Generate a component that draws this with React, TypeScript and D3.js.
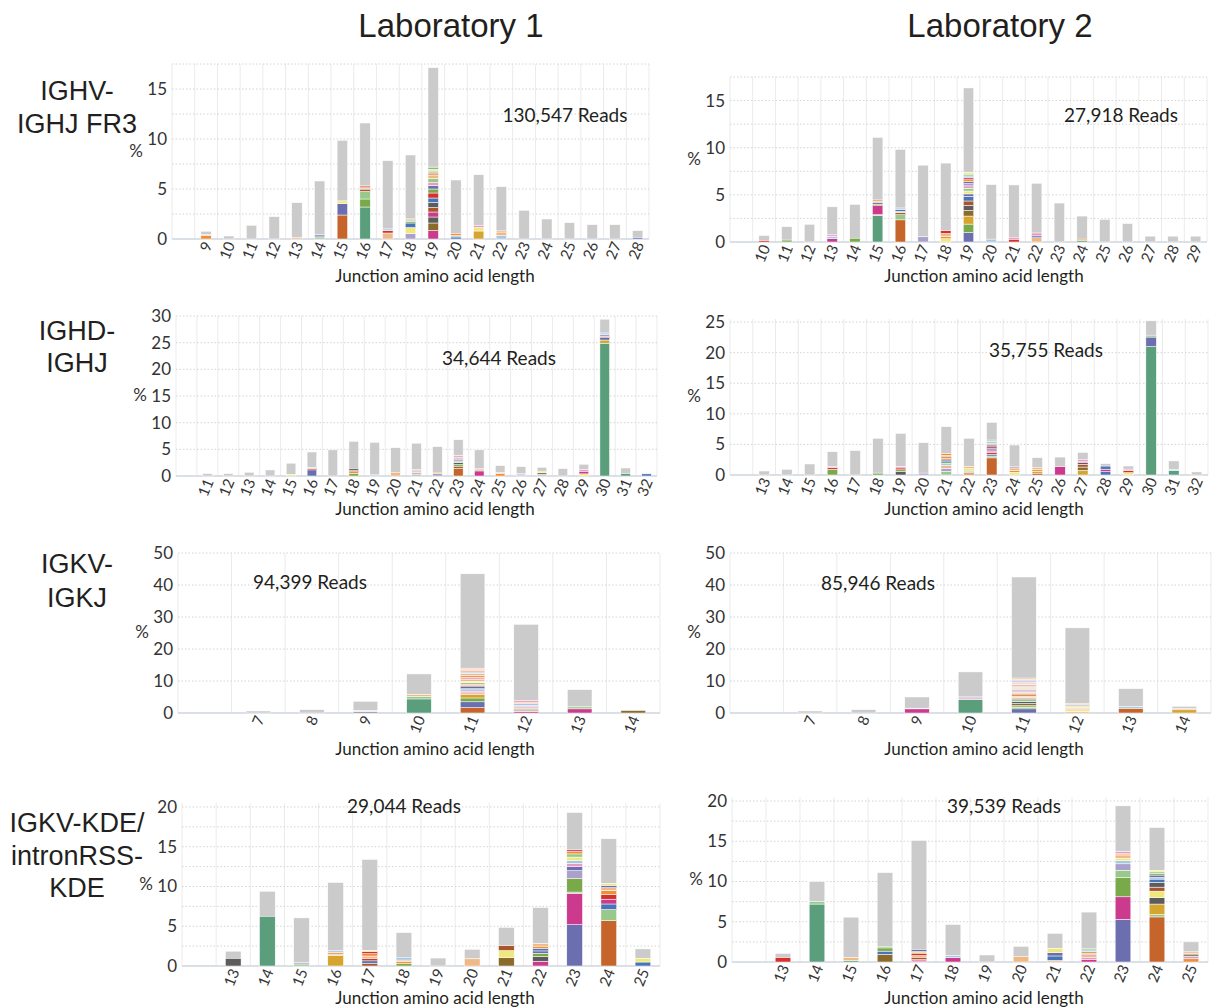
import React from "react";
import * as d3 from "d3";

// each clone segment: [clone colour key, % of reads]
type Seg = [string, number];

// ---------------- IGHV-IGHJ FR3 ----------------
const fr3Lab1Lengths = [9, 10, 11, 12, 13, 14, 15, 16, 17, 18, 19, 20, 21, 22, 23, 24, 25, 26, 27, 28];
const fr3Lab1Totals = [0.77, 0.3, 1.37, 2.23, 3.63, 5.8, 9.87, 11.6, 7.83, 8.4, 17.13, 5.9, 6.43, 5.23, 2.87, 2.0, 1.63, 1.43, 1.43, 0.83];
const fr3Lab1Clones: Seg[][] = [
  [["N", 0.35], ["E", 0.1]],
  [],
  [],
  [],
  [["E", 0.15]],
  [["L", 0.2], ["V", 0.25]],
  [["O", 2.4], ["P", 1.15], ["W", 0.25]],
  [["T", 3.2], ["G", 0.8], ["L", 0.75], ["S", 0.2], ["D", 0.1], ["N", 0.15], ["R", 0.1]],
  [["E", 0.6], ["R", 0.25], ["C", 0.15]],
  [["V", 0.55], ["W", 0.6], ["U", 0.45], ["G", 0.15], ["L", 0.15], ["E", 0.1]],
  [["M", 0.85], ["B", 0.75], ["D", 0.6], ["M", 0.5], ["S", 0.45], ["D", 0.5], ["U", 0.45], ["R", 0.5], ["G", 0.4],
   ["P", 0.35], ["K", 0.3], ["L", 0.4], ["E", 0.35], ["N", 0.2], ["C", 0.2], ["W", 0.2], ["T", 0.15], ["G", 0.12]],
  [["U", 0.2], ["C", 0.15], ["N", 0.2]],
  [["Y", 0.8], ["W", 0.35], ["K", 0.2]],
  [["C", 0.35], ["E", 0.35], ["N", 0.1]],
  [], [], [], [], [],
  [["P", 0.15]],
];

const fr3Lab2Lengths = [10, 11, 12, 13, 14, 15, 16, 17, 18, 19, 20, 21, 22, 23, 24, 25, 26, 27, 28, 29];
const fr3Lab2Totals = [0.69, 1.63, 1.88, 3.73, 3.99, 11.09, 9.82, 8.15, 8.37, 16.34, 6.09, 6.05, 6.23, 4.13, 2.75, 2.39, 1.96, 0.62, 0.62, 0.62];
const fr3Lab2Clones: Seg[][] = [
  [["R", 0.15]],
  [["G", 0.2]],
  [],
  [["M", 0.35], ["C", 0.25], ["K", 0.15]],
  [["G", 0.4]],
  [["T", 2.8], ["K", 0.1], ["M", 0.95], ["B", 0.15], ["D", 0.15], ["C", 0.15], ["N", 0.15]],
  [["O", 2.35], ["L", 0.55], ["S", 0.2], ["E", 0.15], ["U", 0.2], ["C", 0.15]],
  [["V", 0.55]],
  [["W", 0.35], ["N", 0.25], ["E", 0.3], ["R", 0.3]],
  [["P", 1.0], ["G", 0.9], ["Y", 0.85], ["B", 0.6], ["D", 0.55], ["S", 0.45], ["U", 0.5], ["P", 0.25], ["W", 0.3],
   ["L", 0.3], ["K", 0.25], ["V", 0.25], ["P", 0.2], ["N", 0.2], ["R", 0.2], ["C", 0.2], ["L", 0.2], ["W", 0.15]],
  [["C", 0.3]],
  [["R", 0.3], ["K", 0.2]],
  [["E", 0.45], ["P", 0.2], ["K", 0.3]],
  [],
  [["T", 0.15], ["N", 0.15]],
  [], [], [], [], [],
];

// ---------------- IGHD-IGHJ ----------------
const ighdLab1Lengths = [11, 12, 13, 14, 15, 16, 17, 18, 19, 20, 21, 22, 23, 24, 25, 26, 27, 28, 29, 30, 31, 32];
const ighdLab1Totals = [0.44, 0.44, 0.7, 1.13, 2.4, 4.5, 4.9, 6.5, 6.3, 5.3, 6.15, 5.5, 6.8, 4.9, 1.95, 1.75, 1.63, 1.38, 2.2, 29.4, 1.5, 0.5];
const ighdLab1Clones: Seg[][] = [
  [], [], [], [],
  [["W", 0.25]],
  [["P", 1.15], ["R", 0.3], ["C", 0.1]],
  [],
  [["G", 0.5], ["N", 0.3], ["S", 0.3], ["D", 0.3]],
  [["C", 0.2]],
  [["E", 0.7]],
  [["L", 0.35], ["K", 0.3], ["C", 0.3], ["E", 0.2]],
  [["V", 0.5], ["Y", 0.2]],
  [["O", 1.4], ["B", 0.45], ["G", 0.3], ["D", 0.35], ["L", 0.3], ["V", 0.3], ["P", 0.25], ["E", 0.2], ["K", 0.25]],
  [["M", 0.95], ["V", 0.2], ["E", 0.3]],
  [["N", 0.5], ["E", 0.15]],
  [["K", 0.2], ["C", 0.3]],
  [["C", 0.3], ["B", 0.3], ["W", 0.2], ["L", 0.1]],
  [],
  [["W", 0.4], ["M", 0.5], ["K", 0.3]],
  [["T", 24.9], ["Y", 0.6], ["U", 0.45], ["R", 0.25], ["V", 0.3], ["C", 0.3]],
  [["T", 0.45]],
  [["U", 0.4]],
];

const ighdLab2Lengths = [13, 14, 15, 16, 17, 18, 19, 20, 21, 22, 23, 24, 25, 26, 27, 28, 29, 30, 31, 32];
const ighdLab2Totals = [0.65, 0.92, 1.8, 3.8, 4.0, 6.0, 6.8, 5.27, 7.9, 6.0, 8.6, 4.9, 2.83, 2.93, 3.7, 1.85, 1.47, 25.2, 2.3, 0.5];
const ighdLab2Clones: Seg[][] = [
  [], [], [],
  [["G", 0.95], ["R", 0.25], ["K", 0.2]],
  [],
  [["G", 0.3]],
  [["D", 0.55], ["G", 0.3], ["R", 0.3], ["K", 0.2]],
  [["V", 0.3]],
  [["L", 0.6], ["V", 0.5], ["E", 0.5], ["C", 0.3], ["T", 0.25], ["U", 0.3], ["N", 0.3], ["S", 0.2], ["E", 0.25], ["N", 0.3]],
  [["N", 0.35], ["C", 0.3], ["W", 0.4], ["E", 0.3]],
  [["O", 2.8], ["L", 0.3], ["P", 0.3], ["R", 0.3], ["M", 0.2], ["V", 0.4], ["R", 0.3], ["U", 0.3], ["E", 0.3], ["C", 0.3], ["L", 0.2]],
  [["W", 0.45], ["N", 0.3], ["E", 0.4], ["V", 0.25]],
  [["S", 0.3], ["N", 0.3], ["Y", 0.3], ["E", 0.35]],
  [["M", 1.35]],
  [["Y", 0.75], ["B", 0.55], ["S", 0.45], ["D", 0.3], ["M", 0.2], ["K", 0.3]],
  [["U", 0.55], ["M", 0.4], ["U", 0.5]],
  [["W", 0.4], ["R", 0.35], ["K", 0.2]],
  [["T", 21.0], ["P", 1.55], ["L", 0.3]],
  [["T", 0.7], ["C", 0.2]],
  [],
];

// ---------------- IGKV-IGKJ ----------------
const igkLab1Lengths = [7, 8, 9, 10, 11, 12, 13, 14];
const igkLab1Totals = [0.63, 1.05, 3.67, 12.2, 43.5, 27.7, 7.3, 0.95];
const igkLab1Clones: Seg[][] = [
  [],
  [],
  [["D", 0.35], ["K", 0.25], ["C", 0.2]],
  [["T", 4.4], ["L", 0.8], ["E", 0.5]],
  [["O", 1.7], ["P", 1.8], ["G", 1.2], ["Y", 1.0], ["E", 0.6], ["K", 0.4], ["V", 0.5], ["C", 0.4], ["U", 0.6], ["R", 0.4],
   ["N", 0.4], ["L", 0.5], ["W", 0.4], ["E", 0.7], ["K", 0.6], ["N", 0.5], ["E", 0.7], ["C", 0.4], ["E", 0.5], ["K", 0.4], ["E", 0.3]],
  [["M", 0.4], ["E", 0.3], ["D", 0.3], ["O", 0.3], ["L", 0.3], ["K", 0.4], ["V", 0.4], ["C", 0.5], ["E", 0.5], ["K", 0.5]],
  [["M", 1.3], ["L", 0.6]],
  [["B", 0.75]],
];

const igkLab2Lengths = [7, 8, 9, 10, 11, 12, 13, 14];
const igkLab2Totals = [0.63, 1.04, 5.0, 12.84, 42.5, 26.6, 7.6, 2.1];
const igkLab2Clones: Seg[][] = [
  [],
  [],
  [["M", 1.3], ["K", 0.2]],
  [["T", 4.3], ["K", 0.4], ["V", 0.3]],
  [["P", 1.3], ["G", 0.5], ["L", 0.5], ["B", 0.7], ["D", 0.6], ["L", 0.8], ["K", 0.4], ["E", 0.4], ["N", 0.5], ["S", 0.3],
   ["E", 0.5], ["C", 0.4], ["K", 0.4], ["E", 0.4], ["L", 0.3], ["E", 0.4], ["K", 0.4], ["W", 0.3], ["V", 0.3], ["E", 0.3],
   ["C", 0.4], ["K", 0.4], ["E", 0.4]],
  [["E", 0.5], ["W", 0.5], ["E", 0.4], ["K", 0.4], ["W", 0.4], ["C", 0.4], ["E", 0.4]],
  [["O", 1.5], ["C", 0.5]],
  [["Y", 1.0], ["E", 0.4]],
];

// ---------------- IGKV-KDE / intronRSS-KDE ----------------
const kdeLab1Lengths = [13, 14, 15, 16, 17, 18, 19, 20, 21, 22, 23, 24, 25];
const kdeLab1Totals = [1.86, 9.4, 6.05, 10.5, 13.4, 4.2, 1.0, 2.1, 4.85, 7.35, 19.3, 16.0, 2.15];
const kdeLab1Clones: Seg[][] = [
  [["D", 0.95]],
  [["T", 6.25]],
  [["L", 0.25], ["V", 0.15]],
  [["Y", 1.3], ["E", 0.2], ["N", 0.2], ["C", 0.2]],
  [["S", 0.35], ["U", 0.3], ["R", 0.3], ["E", 0.3], ["N", 0.3], ["R", 0.3], ["W", 0.1]],
  [["G", 0.35], ["N", 0.2], ["E", 0.2], ["C", 0.35]],
  [],
  [["E", 0.9]],
  [["B", 1.05], ["W", 0.9], ["S", 0.6]],
  [["M", 0.6], ["D", 0.6], ["G", 0.4], ["P", 0.3], ["U", 0.3], ["N", 0.3], ["E", 0.3]],
  [["P", 5.2], ["M", 3.95], ["L", 0.15], ["G", 1.7], ["V", 1.0], ["P", 0.5], ["K", 0.4], ["C", 0.4], ["W", 0.4], ["L", 0.4], ["N", 0.3], ["R", 0.2]],
  [["O", 5.7], ["L", 1.4], ["U", 0.7], ["M", 0.6], ["R", 0.6], ["N", 0.5], ["E", 0.35], ["P", 0.3], ["W", 0.25]],
  [["U", 0.5], ["W", 0.45]],
];

const kdeLab2Lengths = [13, 14, 15, 16, 17, 18, 19, 20, 21, 22, 23, 24, 25];
const kdeLab2Totals = [1.07, 10.0, 5.57, 11.1, 15.1, 4.66, 0.87, 1.94, 3.55, 6.2, 19.4, 16.7, 2.5];
const kdeLab2Clones: Seg[][] = [
  [["R", 0.55]],
  [["T", 7.2], ["L", 0.3]],
  [["T", 0.2], ["E", 0.35]],
  [["B", 0.95], ["U", 0.4], ["G", 0.4], ["L", 0.2]],
  [["K", 0.3], ["S", 0.3], ["E", 0.2], ["R", 0.3], ["W", 0.2], ["P", 0.25]],
  [["M", 0.55], ["C", 0.25]],
  [],
  [["E", 0.7]],
  [["E", 0.2], ["U", 0.55], ["P", 0.4], ["W", 0.5]],
  [["M", 0.3], ["K", 0.3], ["E", 0.3], ["V", 0.2], ["N", 0.2], ["C", 0.2], ["L", 0.2]],
  [["P", 5.3], ["M", 2.8], ["G", 2.4], ["L", 0.9], ["V", 0.8], ["C", 0.4], ["W", 0.3], ["E", 0.3], ["N", 0.2], ["R", 0.1], ["K", 0.2]],
  [["O", 5.6], ["L", 0.3], ["Y", 1.3], ["D", 0.8], ["W", 0.8], ["S", 0.5], ["D", 0.6], ["U", 0.4], ["C", 0.2], ["P", 0.3], ["G", 0.2], ["L", 0.2], ["W", 0.2]],
  [["N", 0.4], ["K", 0.3], ["T", 0.2], ["R", 0.15], ["E", 0.2]],
];

const labTitles = ["Laboratory 1", "Laboratory 2"];
const rowLabels = [["IGHV-", "IGHJ FR3"], ["IGHD-", "IGHJ"], ["IGKV-", "IGKJ"], ["IGKV-KDE/", "intronRSS-", "KDE"]];

const cloneColors: Record<string, string> = {
  T: "#5b9e7c", O: "#c6652b", P: "#6b6fb0", M: "#cc3a8d", G: "#7aa94a", Y: "#d5a530",
  B: "#8a6b2c", D: "#5c5c5c", U: "#4a74b5", R: "#d4302e", L: "#98c98b", V: "#ab9fcb",
  E: "#efb887", W: "#efe97c", C: "#a7c8e2", K: "#e79ac1", N: "#ef8e39", S: "#a8552d",
};
const otherColor = "#cbcbcb";
const font = "Lato, 'Open Sans', sans-serif";
const headFont = "'Liberation Sans', Arial, sans-serif";

interface PanelSpec {
  lengths: number[];
  totals: number[];
  clones: Seg[][];
  reads: string;
  yMax: number;
  yTicks: number[];
  gridStep: number;
  left: number;
  right: number;
  base: number;
  top: number;
  readsX: number;
  readsY: number;
  labelX: number;
  labelY: number;
}

const panels: PanelSpec[] = [
  { lengths: fr3Lab1Lengths, totals: fr3Lab1Totals, clones: fr3Lab1Clones, reads: "130,547 Reads",
    yMax: 17.5, yTicks: [0, 5, 10, 15], gridStep: 2.5, left: 172, right: 649, base: 239, top: 64,
    readsX: 565, readsY: 122, labelX: 435, labelY: 282 },
  { lengths: fr3Lab2Lengths, totals: fr3Lab2Totals, clones: fr3Lab2Clones, reads: "27,918 Reads",
    yMax: 17.5, yTicks: [0, 5, 10, 15], gridStep: 2.5, left: 730, right: 1207, base: 242, top: 77,
    readsX: 1121, readsY: 122, labelX: 984, labelY: 282 },
  { lengths: ighdLab1Lengths, totals: ighdLab1Totals, clones: ighdLab1Clones, reads: "34,644 Reads",
    yMax: 30, yTicks: [0, 5, 10, 15, 20, 25, 30], gridStep: 5, left: 176, right: 657, base: 476, top: 316,
    readsX: 499, readsY: 365, labelX: 435, labelY: 515 },
  { lengths: ighdLab2Lengths, totals: ighdLab2Totals, clones: ighdLab2Clones, reads: "35,755 Reads",
    yMax: 25.5, yTicks: [0, 5, 10, 15, 20, 25], gridStep: 5, left: 730, right: 1208, base: 475, top: 319,
    readsX: 1046, readsY: 357, labelX: 984, labelY: 515 },
  { lengths: igkLab1Lengths, totals: igkLab1Totals, clones: igkLab1Clones, reads: "94,399 Reads",
    yMax: 50, yTicks: [0, 10, 20, 30, 40, 50], gridStep: 10, left: 178, right: 660, base: 713, top: 553,
    readsX: 310, readsY: 589, labelX: 435, labelY: 755 },
  { lengths: igkLab2Lengths, totals: igkLab2Totals, clones: igkLab2Clones, reads: "85,946 Reads",
    yMax: 50, yTicks: [0, 10, 20, 30, 40, 50], gridStep: 10, left: 730, right: 1211, base: 713, top: 553,
    readsX: 878, readsY: 590, labelX: 984, labelY: 755 },
  { lengths: kdeLab1Lengths, totals: kdeLab1Totals, clones: kdeLab1Clones, reads: "29,044 Reads",
    yMax: 20.5, yTicks: [0, 5, 10, 15, 20], gridStep: 2.5, left: 182, right: 660, base: 966, top: 803,
    readsX: 404, readsY: 813, labelX: 435, labelY: 1004 },
  { lengths: kdeLab2Lengths, totals: kdeLab2Totals, clones: kdeLab2Clones, reads: "39,539 Reads",
    yMax: 20.5, yTicks: [0, 5, 10, 15, 20], gridStep: 2.5, left: 732, right: 1208, base: 962, top: 797,
    readsX: 1004, readsY: 813, labelX: 984, labelY: 1004 },
];

function Panel({ p }: { p: PanelSpec }) {
  const cats = ["", ...p.lengths.map(String)];
  const x = d3.scaleBand<string>().domain(cats).range([p.left, p.right]).padding(0);
  const y = d3.scaleLinear().domain([0, p.yMax]).range([p.base, p.top]);
  const bw = x.bandwidth() * 0.46;
  const grid = d3.range(p.gridStep, p.yMax + 0.001, p.gridStep);
  const bounds = cats.map((c) => x(c)!).concat([p.right]);

  return (
    <g>
      {bounds.map((bx, i) => (
        <line key={"v" + i} x1={bx} x2={bx} y1={p.top} y2={p.base} stroke="#ebebeb" strokeWidth={1} />
      ))}
      {grid.map((v) => (
        <line key={"h" + v} x1={p.left} x2={p.right} y1={y(v)} y2={y(v)} stroke="#d4d4d4" strokeWidth={1} strokeDasharray="1.5 2" />
      ))}
      <line x1={p.left} x2={p.right} y1={p.base} y2={p.base} stroke="#cfd6df" strokeWidth={1.5} />

      {p.lengths.map((len, i) => {
        const cx = x(String(len))! + x.bandwidth() / 2;
        let acc = 0;
        const segs = p.clones[i].map(([k, v], j) => {
          const lo = acc;
          acc += v;
          return (
            <rect key={j} x={cx - bw / 2} width={bw} y={y(acc)} height={y(lo) - y(acc)}
              fill={cloneColors[k]} stroke="#fff" strokeWidth={0.5} />
          );
        });
        return (
          <g key={len}>
            <rect x={cx - bw / 2} width={bw} y={y(p.totals[i])} height={y(acc) - y(p.totals[i])}
              fill={otherColor} stroke="#fff" strokeWidth={0.5} />
            {segs}
            <text transform={`translate(${cx + 3},${p.base + 4}) rotate(-68)`} textAnchor="end"
              dominantBaseline="middle" fontSize={15} fill="#333" fontFamily={font}>{len}</text>
          </g>
        );
      })}

      {p.yTicks.map((t) => (
        <text key={"t" + t} x={p.left - 5} y={y(t)} dy="0.35em" textAnchor="end" fontSize={17}
          fill="#333" fontFamily={font}>{t}</text>
      ))}
      <text x={p.left - 36} y={(p.base + p.top) / 2 + 5} textAnchor="middle" fontSize={17} fill="#333" fontFamily={font}>%</text>
      <text x={p.readsX} y={p.readsY} textAnchor="middle" fontSize={19} fill="#231f20" fontFamily={font}>{p.reads}</text>
      <text x={p.labelX} y={p.labelY} textAnchor="middle" fontSize={17} fill="#231f20" fontFamily={font}>
        Junction amino acid length
      </text>
    </g>
  );
}

export default function App() {
  const rowBaselines = [[100, 133], [340, 372], [573, 607], [832, 865, 897]];
  return (
    <svg width={1212} height={1007} style={{ position: "absolute", left: 0, top: 0, background: "#fff" }}>
      <text x={451} y={37} textAnchor="middle" fontSize={33} fill="#231f20" fontFamily={headFont}>{labTitles[0]}</text>
      <text x={1000} y={37} textAnchor="middle" fontSize={33} fill="#231f20" fontFamily={headFont}>{labTitles[1]}</text>
      {rowLabels.map((lines, r) =>
        lines.map((s, k) => (
          <text key={r + "-" + k} x={77} y={rowBaselines[r][k]} textAnchor="middle" fontSize={27}
            fill="#231f20" fontFamily={headFont}>{s}</text>
        ))
      )}
      {panels.map((p, i) => <Panel key={i} p={p} />)}
    </svg>
  );
}
